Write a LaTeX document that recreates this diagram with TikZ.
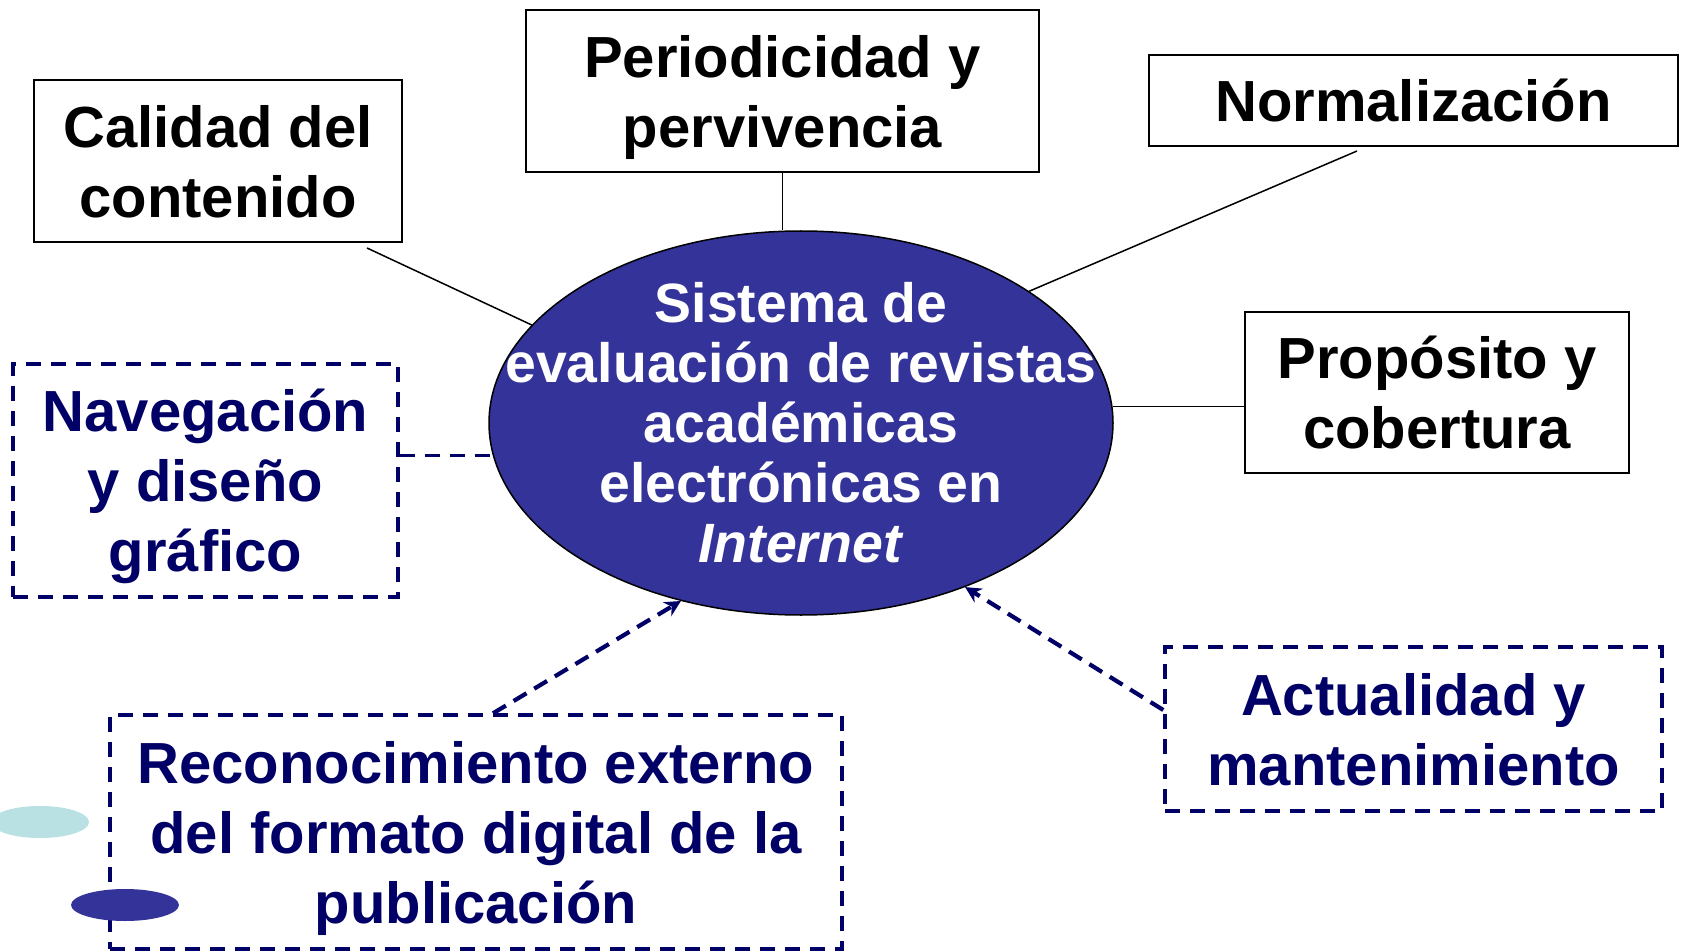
\documentclass[tikz,border=0pt]{standalone}
\usepackage{fontspec}
\setmainfont{Liberation Sans}
\usetikzlibrary{shapes.geometric, arrows.meta}
\definecolor{navy}{RGB}{0,0,102}
\definecolor{sysblue}{RGB}{51,51,153}
\definecolor{paleteal}{RGB}{185,224,227}

\begin{document}
\begin{tikzpicture}[x=0.5pt, y=-0.5pt,
    solidbox/.style={draw=black, line width=1pt, inner sep=0pt, text depth=0pt, align=center, font=\fontsize{29}{35}\selectfont\bfseries},
    dashbox/.style={draw=navy, line width=1.7pt, dash pattern=on 7.5pt off 5pt, inner sep=0pt, text depth=0pt, align=center, text=navy, font=\fontsize{29}{35}\selectfont\bfseries},
    link/.style={line width=0.75pt},
    dashlink/.style={draw=navy, line width=1.7pt, dash pattern=on 7.5pt off 5pt},
    arrowlink/.style={draw=navy, line width=2.1pt, dash pattern=on 7.5pt off 4.5pt, -{Stealth[length=8pt, width=8pt]}}]
      \useasboundingbox (0,0) rectangle (1681,952);
      % centre
      \node[ellipse, draw=black, line width=0.75pt, fill=sysblue, minimum width=312pt, minimum height=192pt, inner sep=0pt] (sistema) at (801,423) {};
      \node[text=white, align=center, font=\fontsize{27.7}{30}\selectfont\bfseries] (sistematext) at (sistema.center)
            {Sistema de\\evaluación de revistas\\académicas\\electrónicas en\\\textit{Internet}};
      % solid boxes
      \node[solidbox, minimum width=184pt, minimum height=81pt] (calidad) at (218,161) {Calidad del\\contenido};
      \node[solidbox, minimum width=256.5pt, minimum height=81pt] (periodicidad) at (782.5,91) {Periodicidad y\\pervivencia};
      \node[solidbox, minimum width=264.5pt, minimum height=45.5pt] (normalizacion) at (1413.5,100.5) {Normalización};
      \node[solidbox, minimum width=192pt, minimum height=80.5pt] (proposito) at (1437,392.5) {Propósito y\\cobertura};
      % dashed boxes
      \node[dashbox, minimum width=192.5pt, minimum height=116.5pt] (navegacion) at (205.5,480.5) {Navegación\\y diseño\\gráfico};
      \node[dashbox, minimum width=248.5pt, minimum height=82pt] (actualidad) at (1413.5,729) {Actualidad y\\mantenimiento};
      \node[dashbox, minimum width=366pt, minimum height=117pt] (reconocimiento) at (476,832) {Reconocimiento externo\\del formato digital de la\\publicación};
      % links
      \coordinate (calidadend) at (367,248);
      \coordinate (normaend) at (1357,151);
      \draw[link] (calidadend) -- (sistema.160.7);
      \draw[link] (periodicidad.south) -- (periodicidad.south |- sistema.north);
      \draw[link] (normaend) -- (sistema.30.8);
      \draw[link] (sistema.3.5) -- (sistema.3.5 -| proposito.west);
      \draw[dashlink] (navegacion.east |- sistema.186) -- (sistema.186);
      \draw[arrowlink] ([xshift=8.5pt]reconocimiento.north) -- (sistema.236.3);
      \draw[arrowlink] ([yshift=9.5pt]actualidad.west) -- (sistema.-45);
      % bullets
      \fill[paleteal] (40,822) ellipse [x radius=24.5pt, y radius=8pt];
      \fill[sysblue] (125,905) ellipse [x radius=27pt, y radius=8pt];
\end{tikzpicture}
\end{document}
